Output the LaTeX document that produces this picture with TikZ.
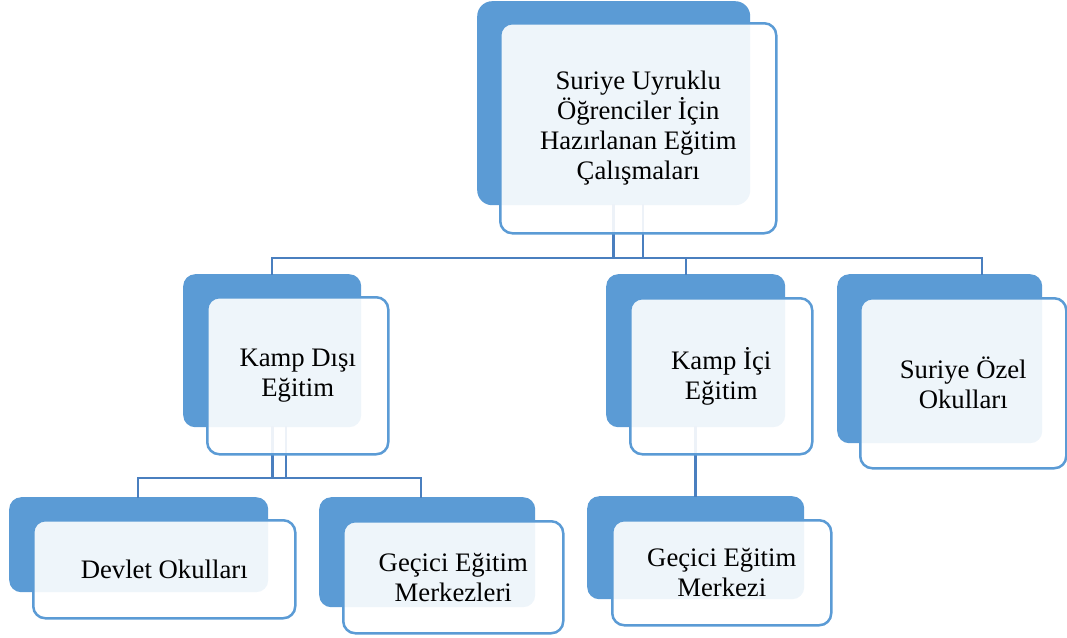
\documentclass[tikz,border=0pt]{standalone}
\usepackage{fontspec}
\setmainfont{Liberation Serif}
\usepackage{xcolor}
\definecolor{smblue}{HTML}{5B9BD5}
\definecolor{linkblue}{HTML}{4A7FBF}

\begin{document}
\begin{tikzpicture}[x=1pt,y=-1pt]
  \tikzset{
    backbox/.style={fill=smblue, rounded corners=12pt, inner sep=0pt, anchor=north west},
    frontbox/.style={draw=smblue, line width=2.5pt, fill=white, fill opacity=0.9,
      text opacity=1, rounded corners=12pt, inner sep=0pt, anchor=north west,
      align=center, font=\fontsize{26.7}{30}\selectfont},
    link/.style={draw=linkblue, line width=2.7pt, line cap=rect}
  }
  \useasboundingbox (0,0) rectangle (1067,637);

  % Back boxes (blue)
  \node[backbox, rounded corners=15pt, minimum width=273, minimum height=204] (rootB) at (477,1) {};
  \node[backbox, minimum width=178, minimum height=153] (kdB) at (183,274) {};
  \node[backbox, minimum width=179, minimum height=153] (kiB) at (606,274) {};
  \node[backbox, minimum width=205, minimum height=169] (ozB) at (837,274) {};
  \node[backbox, minimum width=259, minimum height=95] (dvB) at (9,497) {};
  \node[backbox, minimum width=216, minimum height=110] (gmB) at (319,497) {};
  \node[backbox, minimum width=217, minimum height=103] (gzB) at (587,496) {};

  % Connectors, first level
  \coordinate (busL) at (272,258);
  \coordinate (busR) at (982,258);
  \coordinate (rootR) at (643,205);
  \coordinate (kiDrop) at (686,258);
  \draw[link] (busL) -- (busR);
  \draw[link] (rootB.south) -- (rootB.south |- busL);
  \draw[link] (rootR) -- (rootR |- busL);
  \draw[link] (busL) -- (busL |- kdB.north);
  \draw[link] (kiDrop) -- (kiDrop |- kiB.north);
  \draw[link] (busR) -- (busR |- ozB.north);

  % Connectors, second level
  \coordinate (subL) at (138,478);
  \coordinate (subR) at (421,478);
  \coordinate (kdR) at (286,427);
  \draw[link] (subL) -- (subR);
  \draw[link] (kdB.south) -- (kdB.south |- subL);
  \draw[link] (kdR) -- (kdR |- subL);
  \draw[link] (subL) -- (subL |- dvB.north);
  \draw[link] (subR) -- (subR |- gmB.north);
  \draw[link] (kiB.south) -- (kiB.south |- gzB.north);

  % Front boxes with the texts
  \node[frontbox, minimum width=276, minimum height=210] (rootF) at (499,22)
    {Suriye Uyruklu\\Öğrenciler İçin\\Hazırlanan Eğitim\\Çalışmaları};
  \node[frontbox, minimum width=181, minimum height=157] (kdF) at (206,296) {Kamp Dışı\\Eğitim};
  \node[frontbox, minimum width=182, minimum height=156] (kiF) at (629,297) {Kamp İçi\\Eğitim};
  \node[frontbox, minimum width=206, minimum height=170] (ozF) at (859,297) {Suriye Özel\\Okulları};
  \node[frontbox, minimum width=262, minimum height=98] (dvF) at (32,519) {Devlet Okulları};
  \node[frontbox, minimum width=220, minimum height=112] (gmF) at (342,520) {Geçici Eğitim\\Merkezleri};
  \node[frontbox, minimum width=219, minimum height=105] (gzF) at (611,519) {Geçici Eğitim\\Merkezi};
\end{tikzpicture}
\end{document}
